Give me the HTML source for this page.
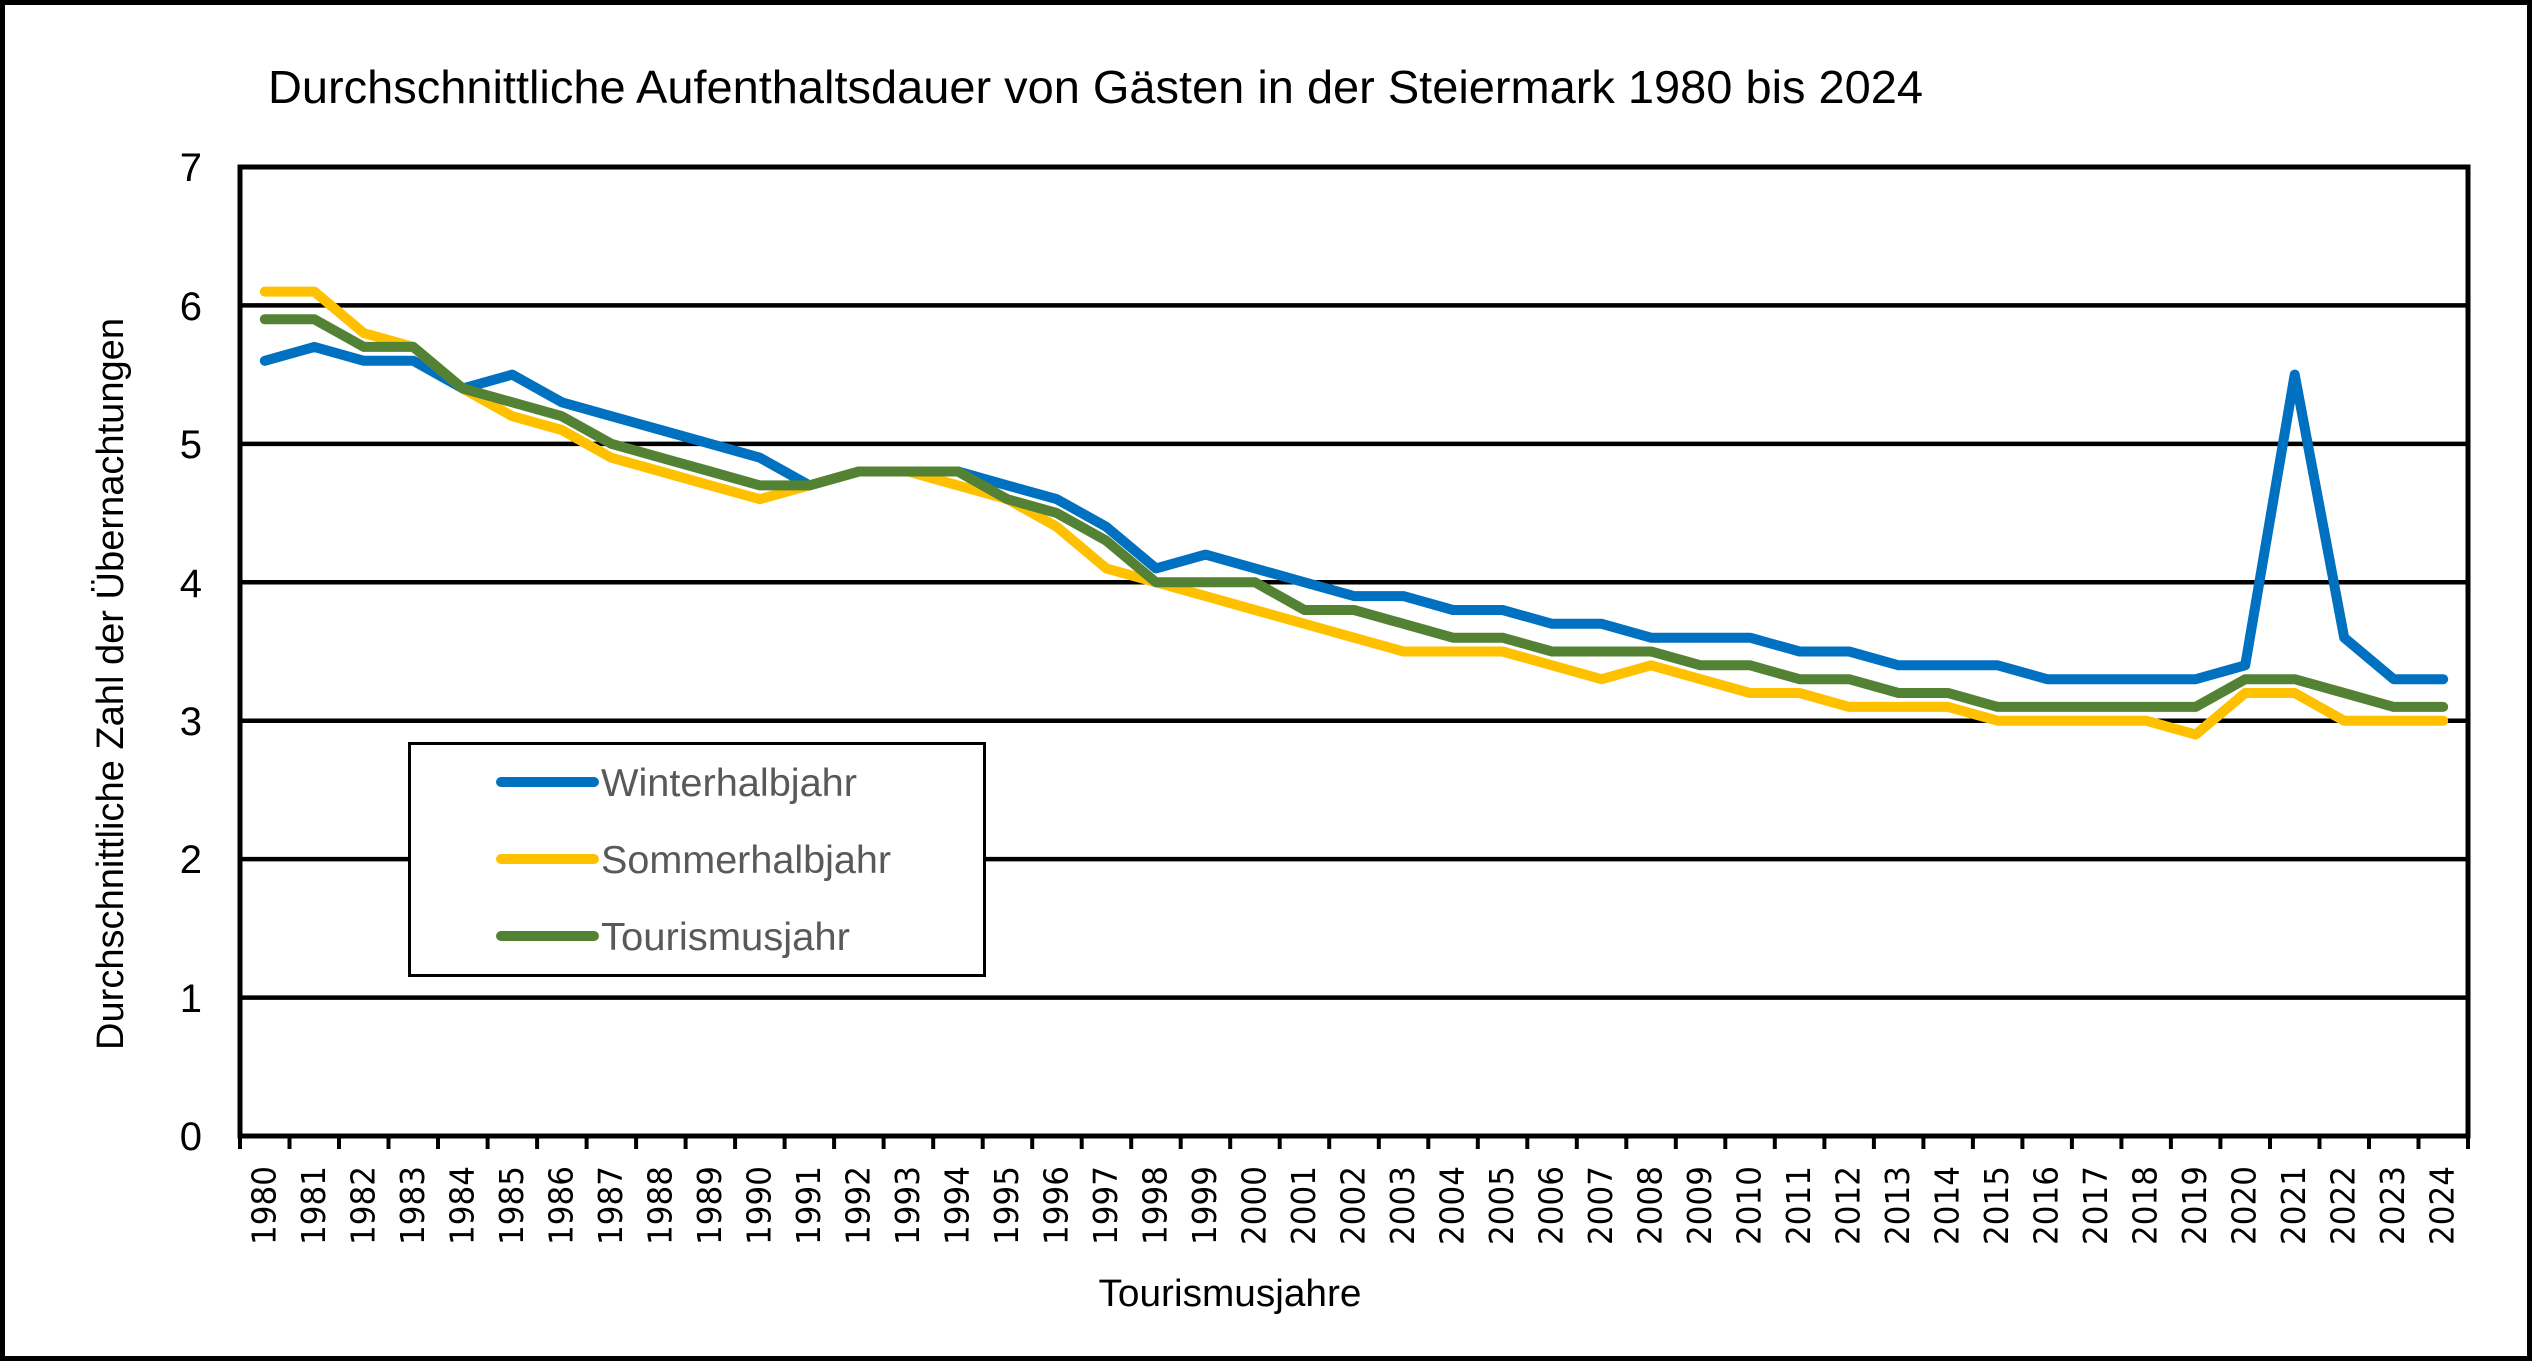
<!DOCTYPE html>
<html><head><meta charset="utf-8"><style>
html,body{margin:0;padding:0;background:#fff}
svg{display:block}
</style></head><body>
<svg id="c" xmlns="http://www.w3.org/2000/svg" width="2532" height="1361" viewBox="0 0 2532 1361">
<rect x="2.5" y="2.5" width="2527" height="1356" fill="#fff" stroke="#000" stroke-width="5"/>
<text x="268" y="103" font-family="Liberation Sans, sans-serif" font-size="46" textLength="1655" lengthAdjust="spacingAndGlyphs">Durchschnittliche Aufenthaltsdauer von Gästen in der Steiermark 1980 bis 2024</text>
<g stroke="#000" stroke-width="4.5">
<line x1="240" y1="997.6" x2="2468" y2="997.6"/>
<line x1="240" y1="859.1" x2="2468" y2="859.1"/>
<line x1="240" y1="720.7" x2="2468" y2="720.7"/>
<line x1="240" y1="582.3" x2="2468" y2="582.3"/>
<line x1="240" y1="443.9" x2="2468" y2="443.9"/>
<line x1="240" y1="305.4" x2="2468" y2="305.4"/>
</g>
<rect x="240" y="167" width="2228" height="969" fill="none" stroke="#000" stroke-width="5"/>
<g id="ticks" stroke="#000" stroke-width="4"></g>
<g font-family="Liberation Sans, sans-serif" font-size="40" text-anchor="end">
<text x="202" y="1150">0</text><text x="202" y="1012">1</text><text x="202" y="873">2</text><text x="202" y="735">3</text><text x="202" y="597">4</text><text x="202" y="458">5</text><text x="202" y="320">6</text><text x="202" y="181">7</text>
</g>
<text transform="translate(123,684) rotate(-90)" text-anchor="middle" font-family="Liberation Sans, sans-serif" font-size="38" textLength="732" lengthAdjust="spacingAndGlyphs">Durchschnittliche Zahl der Übernachtungen</text>
<text x="1230" y="1306" text-anchor="middle" font-family="Liberation Sans, sans-serif" font-size="38" textLength="263" lengthAdjust="spacingAndGlyphs">Tourismusjahre</text>
<g font-family="DejaVu Sans, sans-serif" font-size="33" text-anchor="start">
<text transform="translate(264.7,1245) rotate(-90)" y="11" textLength="79" lengthAdjust="spacingAndGlyphs">1980</text>
<text transform="translate(314.2,1245) rotate(-90)" y="11" textLength="79" lengthAdjust="spacingAndGlyphs">1981</text>
<text transform="translate(363.7,1245) rotate(-90)" y="11" textLength="79" lengthAdjust="spacingAndGlyphs">1982</text>
<text transform="translate(413.2,1245) rotate(-90)" y="11" textLength="79" lengthAdjust="spacingAndGlyphs">1983</text>
<text transform="translate(462.7,1245) rotate(-90)" y="11" textLength="79" lengthAdjust="spacingAndGlyphs">1984</text>
<text transform="translate(512.2,1245) rotate(-90)" y="11" textLength="79" lengthAdjust="spacingAndGlyphs">1985</text>
<text transform="translate(561.7,1245) rotate(-90)" y="11" textLength="79" lengthAdjust="spacingAndGlyphs">1986</text>
<text transform="translate(611.2,1245) rotate(-90)" y="11" textLength="79" lengthAdjust="spacingAndGlyphs">1987</text>
<text transform="translate(660.7,1245) rotate(-90)" y="11" textLength="79" lengthAdjust="spacingAndGlyphs">1988</text>
<text transform="translate(710.2,1245) rotate(-90)" y="11" textLength="79" lengthAdjust="spacingAndGlyphs">1989</text>
<text transform="translate(759.6,1245) rotate(-90)" y="11" textLength="79" lengthAdjust="spacingAndGlyphs">1990</text>
<text transform="translate(809.1,1245) rotate(-90)" y="11" textLength="79" lengthAdjust="spacingAndGlyphs">1991</text>
<text transform="translate(858.6,1245) rotate(-90)" y="11" textLength="79" lengthAdjust="spacingAndGlyphs">1992</text>
<text transform="translate(908.1,1245) rotate(-90)" y="11" textLength="79" lengthAdjust="spacingAndGlyphs">1993</text>
<text transform="translate(957.6,1245) rotate(-90)" y="11" textLength="79" lengthAdjust="spacingAndGlyphs">1994</text>
<text transform="translate(1007.1,1245) rotate(-90)" y="11" textLength="79" lengthAdjust="spacingAndGlyphs">1995</text>
<text transform="translate(1056.6,1245) rotate(-90)" y="11" textLength="79" lengthAdjust="spacingAndGlyphs">1996</text>
<text transform="translate(1106.1,1245) rotate(-90)" y="11" textLength="79" lengthAdjust="spacingAndGlyphs">1997</text>
<text transform="translate(1155.6,1245) rotate(-90)" y="11" textLength="79" lengthAdjust="spacingAndGlyphs">1998</text>
<text transform="translate(1205.1,1245) rotate(-90)" y="11" textLength="79" lengthAdjust="spacingAndGlyphs">1999</text>
<text transform="translate(1254.5,1245) rotate(-90)" y="11" textLength="79" lengthAdjust="spacingAndGlyphs">2000</text>
<text transform="translate(1304.0,1245) rotate(-90)" y="11" textLength="79" lengthAdjust="spacingAndGlyphs">2001</text>
<text transform="translate(1353.5,1245) rotate(-90)" y="11" textLength="79" lengthAdjust="spacingAndGlyphs">2002</text>
<text transform="translate(1403.0,1245) rotate(-90)" y="11" textLength="79" lengthAdjust="spacingAndGlyphs">2003</text>
<text transform="translate(1452.5,1245) rotate(-90)" y="11" textLength="79" lengthAdjust="spacingAndGlyphs">2004</text>
<text transform="translate(1502.0,1245) rotate(-90)" y="11" textLength="79" lengthAdjust="spacingAndGlyphs">2005</text>
<text transform="translate(1551.5,1245) rotate(-90)" y="11" textLength="79" lengthAdjust="spacingAndGlyphs">2006</text>
<text transform="translate(1601.0,1245) rotate(-90)" y="11" textLength="79" lengthAdjust="spacingAndGlyphs">2007</text>
<text transform="translate(1650.5,1245) rotate(-90)" y="11" textLength="79" lengthAdjust="spacingAndGlyphs">2008</text>
<text transform="translate(1700.0,1245) rotate(-90)" y="11" textLength="79" lengthAdjust="spacingAndGlyphs">2009</text>
<text transform="translate(1749.4,1245) rotate(-90)" y="11" textLength="79" lengthAdjust="spacingAndGlyphs">2010</text>
<text transform="translate(1798.9,1245) rotate(-90)" y="11" textLength="79" lengthAdjust="spacingAndGlyphs">2011</text>
<text transform="translate(1848.4,1245) rotate(-90)" y="11" textLength="79" lengthAdjust="spacingAndGlyphs">2012</text>
<text transform="translate(1897.9,1245) rotate(-90)" y="11" textLength="79" lengthAdjust="spacingAndGlyphs">2013</text>
<text transform="translate(1947.4,1245) rotate(-90)" y="11" textLength="79" lengthAdjust="spacingAndGlyphs">2014</text>
<text transform="translate(1996.9,1245) rotate(-90)" y="11" textLength="79" lengthAdjust="spacingAndGlyphs">2015</text>
<text transform="translate(2046.4,1245) rotate(-90)" y="11" textLength="79" lengthAdjust="spacingAndGlyphs">2016</text>
<text transform="translate(2095.9,1245) rotate(-90)" y="11" textLength="79" lengthAdjust="spacingAndGlyphs">2017</text>
<text transform="translate(2145.4,1245) rotate(-90)" y="11" textLength="79" lengthAdjust="spacingAndGlyphs">2018</text>
<text transform="translate(2194.9,1245) rotate(-90)" y="11" textLength="79" lengthAdjust="spacingAndGlyphs">2019</text>
<text transform="translate(2244.3,1245) rotate(-90)" y="11" textLength="79" lengthAdjust="spacingAndGlyphs">2020</text>
<text transform="translate(2293.8,1245) rotate(-90)" y="11" textLength="79" lengthAdjust="spacingAndGlyphs">2021</text>
<text transform="translate(2343.3,1245) rotate(-90)" y="11" textLength="79" lengthAdjust="spacingAndGlyphs">2022</text>
<text transform="translate(2392.8,1245) rotate(-90)" y="11" textLength="79" lengthAdjust="spacingAndGlyphs">2023</text>
<text transform="translate(2442.3,1245) rotate(-90)" y="11" textLength="79" lengthAdjust="spacingAndGlyphs">2024</text>
</g>
<g id="series" fill="none" stroke-width="10" stroke-linejoin="round" stroke-linecap="round"></g>
<rect x="409.5" y="743.5" width="575" height="232" fill="#fff" stroke="#000" stroke-width="3"/>
<g stroke-width="10" stroke-linecap="round">
<line x1="501" y1="782" x2="594" y2="782" stroke="#0070C0"/>
<line x1="501" y1="859" x2="594" y2="859" stroke="#FFC000"/>
<line x1="501" y1="936" x2="594" y2="936" stroke="#548235"/>
</g>
<g font-family="Liberation Sans, sans-serif" font-size="39" fill="#595959">
<text x="601" y="796" textLength="256" lengthAdjust="spacingAndGlyphs">Winterhalbjahr</text>
<text x="601" y="873" textLength="290" lengthAdjust="spacingAndGlyphs">Sommerhalbjahr</text>
<text x="601" y="950" textLength="249" lengthAdjust="spacingAndGlyphs">Tourismusjahr</text>
</g>
</svg>
<script>
(function(){
var NS="http://www.w3.org/2000/svg";
var w=[5.6,5.7,5.6,5.6,5.4,5.5,5.3,5.2,5.1,5.0,4.9,4.7,4.8,4.8,4.8,4.7,4.6,4.4,4.1,4.2,4.1,4.0,3.9,3.9,3.8,3.8,3.7,3.7,3.6,3.6,3.6,3.5,3.5,3.4,3.4,3.4,3.3,3.3,3.3,3.3,3.4,5.5,3.6,3.3,3.3];
var s=[6.1,6.1,5.8,5.7,5.4,5.2,5.1,4.9,4.8,4.7,4.6,4.7,4.8,4.8,4.7,4.6,4.4,4.1,4.0,3.9,3.8,3.7,3.6,3.5,3.5,3.5,3.4,3.3,3.4,3.3,3.2,3.2,3.1,3.1,3.1,3.0,3.0,3.0,3.0,2.9,3.2,3.2,3.0,3.0,3.0];
var t=[5.9,5.9,5.7,5.7,5.4,5.3,5.2,5.0,4.9,4.8,4.7,4.7,4.8,4.8,4.8,4.6,4.5,4.3,4.0,4.0,4.0,3.8,3.8,3.7,3.6,3.6,3.5,3.5,3.5,3.4,3.4,3.3,3.3,3.2,3.2,3.1,3.1,3.1,3.1,3.1,3.3,3.3,3.2,3.1,3.1];
var cw=2228/45, g=document.getElementById("series");
function add(d,c){var p=[];for(var i=0;i<d.length;i++){p.push((240+cw*(i+0.5)).toFixed(1)+","+(1136-138.43*d[i]).toFixed(1));}
var e=document.createElementNS(NS,"polyline");e.setAttribute("points",p.join(" "));e.setAttribute("stroke",c);g.appendChild(e);}
add(w,"#0070C0");add(s,"#FFC000");add(t,"#548235");
var tk=document.getElementById("ticks");
for(var i=0;i<=45;i++){var x=(240+cw*i).toFixed(1);var l=document.createElementNS(NS,"line");l.setAttribute("x1",x);l.setAttribute("x2",x);l.setAttribute("y1",1136);l.setAttribute("y2",1149);tk.appendChild(l);}
})();
</script>
</body></html>
